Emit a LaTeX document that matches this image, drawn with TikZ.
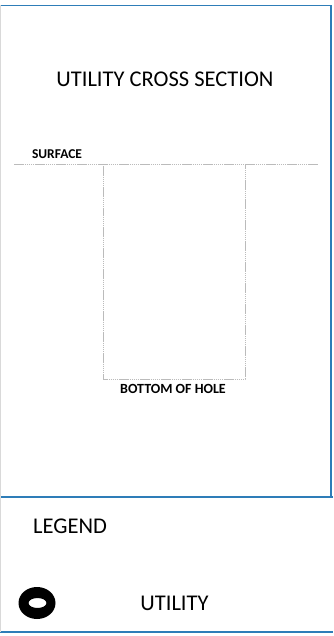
\documentclass[tikz,border=0pt]{standalone}
\usepackage{fontspec}
\setmainfont{Carlito}
\definecolor{frameblue}{HTML}{2E7DB8}
\definecolor{holegray}{HTML}{BBBBBB}
\begin{document}
\begin{tikzpicture}[x=1pt,y=-1pt,
  frameline/.style={draw=frameblue,line width=1.6pt},
  holeline/.style={draw=holegray,line width=0.9pt,dash pattern=on 1.5pt off 0.6pt},
  lbl/.style={inner sep=0pt,font=\fontsize{22.5}{24}\selectfont},
  smalllbl/.style={inner sep=0pt,font=\bfseries\fontsize{13.5}{15}\selectfont}]
\useasboundingbox (0,0) rectangle (333,636);
% frame
\coordinate (tl) at (0,5.5);
\coordinate (tr) at (331,5.5);
\coordinate (mr) at (331,497);
\coordinate (ml) at (0,497);
\coordinate (bl) at (0,632);
\coordinate (br) at (333,632);
\draw[frameline] (tl) -- (tr) -- (mr);
\draw[frameline] (ml) -- (333,497);
\draw[frameline] (bl) -- (br);
\draw[draw=gray!30,line width=0.8pt] (0.5,5.5) -- (0.5,632);
% title
\node[lbl] (title) at (165,79) {UTILITY CROSS SECTION};
% surface
\node[smalllbl] (surf) at (57,154.5) {SURFACE};
\coordinate (sl) at (14,164);
\coordinate (sr) at (318,164);
\draw[holeline] (sl) -- (sr);
% hole
\coordinate (h1) at (103,164);
\coordinate (h2) at (103,379);
\coordinate (h3) at (245,379);
\coordinate (h4) at (245,164);
\draw[holeline] (h1) -- (h2) -- (h3) -- (h4);
\node[smalllbl,font=\bfseries\fontsize{14}{16}\selectfont] (bottom) at (173,389) {BOTTOM OF HOLE};
% legend
\node[lbl,anchor=west] (legend) at (33,526) {LEGEND};
\path[fill=black,even odd rule] (37,603) ellipse [x radius=18.5,y radius=16] (37.5,603) ellipse [x radius=9,y radius=5];
\node[lbl] (utility) at (174.5,603) {UTILITY};
\end{tikzpicture}
\end{document}
